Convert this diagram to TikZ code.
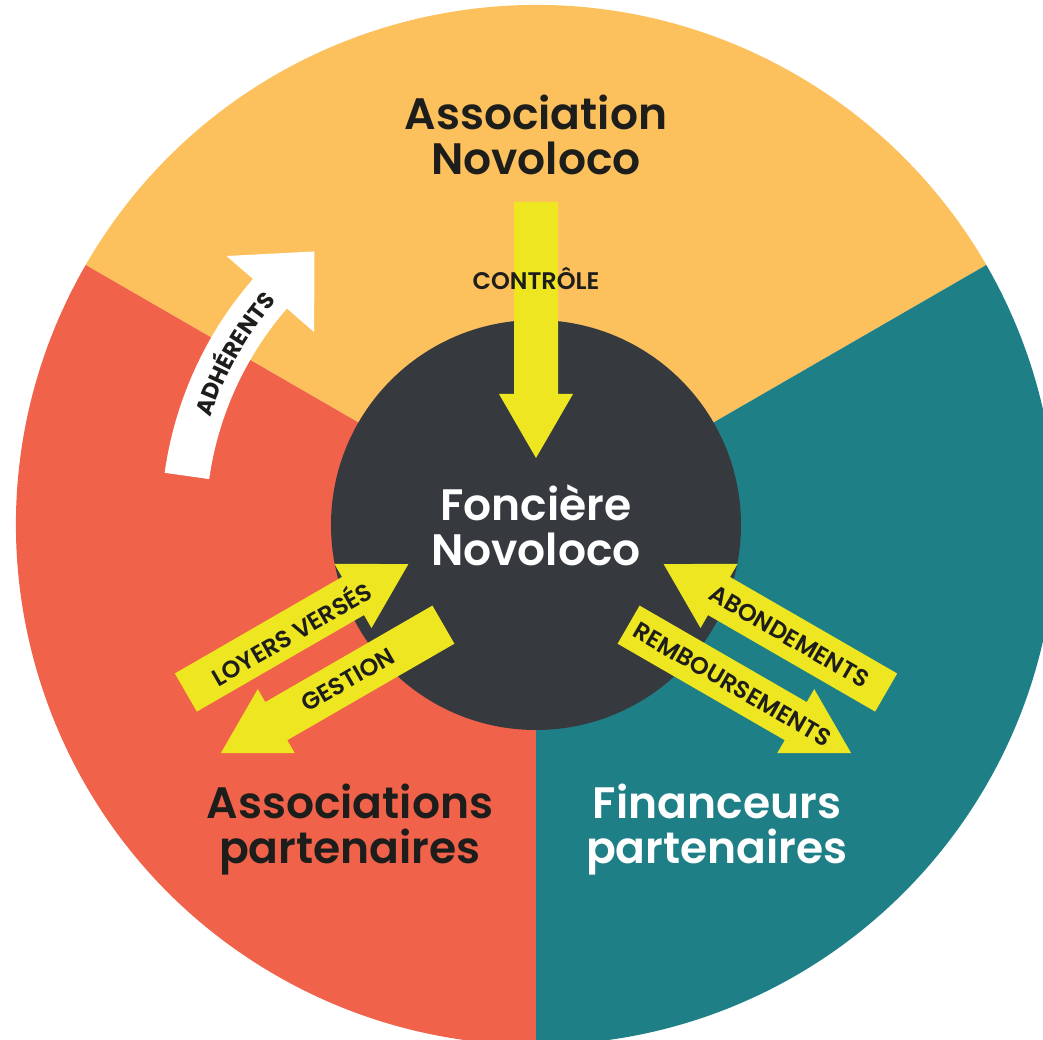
\documentclass[tikz,border=0pt]{standalone}
\usepackage{fontspec}
\setmainfont{Poppins}
\newfontfamily\titlefont{Poppins SemiBold}
\usepackage{xcolor}
\usepackage{tikz}
\usetikzlibrary{calc}
\usetikzlibrary{decorations.text}

\definecolor{sunny}{HTML}{FCC15C}
\definecolor{coral}{HTML}{F0624A}
\definecolor{petrol}{HTML}{1F7F86}
\definecolor{slate}{HTML}{363A3F}
\definecolor{lemon}{HTML}{EEE620}
\definecolor{ink}{HTML}{1D1D1B}

% fleche pleine de #1 (queue) vers #2 (pointe)
\newcommand{\blockarrow}[2]{%
  \coordinate (hb) at ($(#2)!64pt!(#1)$);
  \fill[lemon] ($(#1)!22pt!90:(#2)$) -- ($(hb)!22pt!90:(#2)$) -- ($(hb)!37pt!90:(#2)$) -- (#2)
    -- ($(hb)!37pt!-90:(#2)$) -- ($(hb)!22pt!-90:(#2)$) -- ($(#1)!22pt!-90:(#2)$) -- cycle;
}

\begin{document}
\begin{tikzpicture}[x=1pt, y=1pt]
  \tikzstyle{title}=[align=center, inner sep=0pt, font=\titlefont\fontsize{44}{45}\selectfont]
  \tikzstyle{tag}=[inner sep=0pt, text=ink, font=\titlefont\fontsize{24}{24}\selectfont]
  \useasboundingbox (-536,-515) rectangle (507,525);

  % secteurs
  \fill[sunny] (0,0) -- (150:520) arc[start angle=150, end angle=30, radius=520] -- cycle;
  \fill[coral] (0,0) -- (150:520) arc[start angle=150, end angle=270, radius=520] -- cycle;
  \fill[petrol] (0,0) -- (270:520) arc[start angle=270, end angle=390, radius=520] -- cycle;

  \node[circle, fill=slate, minimum size=410pt, title, text=white] (fonciere) at (0,0) {Foncière\\Novoloco};
  \node[title, text=ink]   (asso)     at (0,390)     {Association\\Novoloco};
  \node[title, text=ink]   (partasso) at (-186,-305) {Associations\\partenaires};
  \node[title, text=white] (partfin)  at (181,-305)  {Financeurs\\partenaires};

  % adherents
  \fill[white] (172:375) arc[start angle=172, end angle=139, radius=375] -- (139:410) -- (129:352)
    -- (139:294) -- (139:330) arc[start angle=139, end angle=172, radius=330] -- cycle;
  \path[decorate, decoration={text along path, text align=center, text color=ink,
    text={|\bfseries\fontsize{23}{23}\selectfont|ADHÉRENTS}}]
    (170:343) arc[start angle=170, end angle=131, radius=343];

  % fleches
  \coordinate (controle-in)  at (0,323);
  \coordinate (controle-out) at (0,67);
  \begin{scope}[rotate=30]
    \coordinate (loyers-in)   at (-387,30);
    \coordinate (loyers-out)  at (-130,30);
    \coordinate (gestion-in)  at (-130,-40);
    \coordinate (gestion-out) at (-387,-40);
  \end{scope}
  \begin{scope}[rotate=-30]
    \coordinate (abond-in)     at (387,30);
    \coordinate (abond-out)    at (130,30);
    \coordinate (rembours-in)  at (130,-40);
    \coordinate (rembours-out) at (387,-40);
  \end{scope}
  \blockarrow{controle-in}{controle-out}
  \blockarrow{loyers-in}{loyers-out}
  \blockarrow{gestion-in}{gestion-out}
  \blockarrow{abond-in}{abond-out}
  \blockarrow{rembours-in}{rembours-out}

  % etiquettes
  \node[tag] (controle) at (0,246) {CONTRÔLE};
  \begin{scope}[rotate=30, transform shape]
    \node[tag] (loyers)  at (-266,30)  {LOYERS VERSÉS};
    \node[tag] (gestion) at (-240,-40) {GESTION};
  \end{scope}
  \begin{scope}[rotate=-30, transform shape]
    \node[tag] (abond)    at (275,30)  {ABONDEMENTS};
    \node[tag] (rembours) at (250,-40) {REMBOURSEMENTS};
  \end{scope}
\end{tikzpicture}
\end{document}
